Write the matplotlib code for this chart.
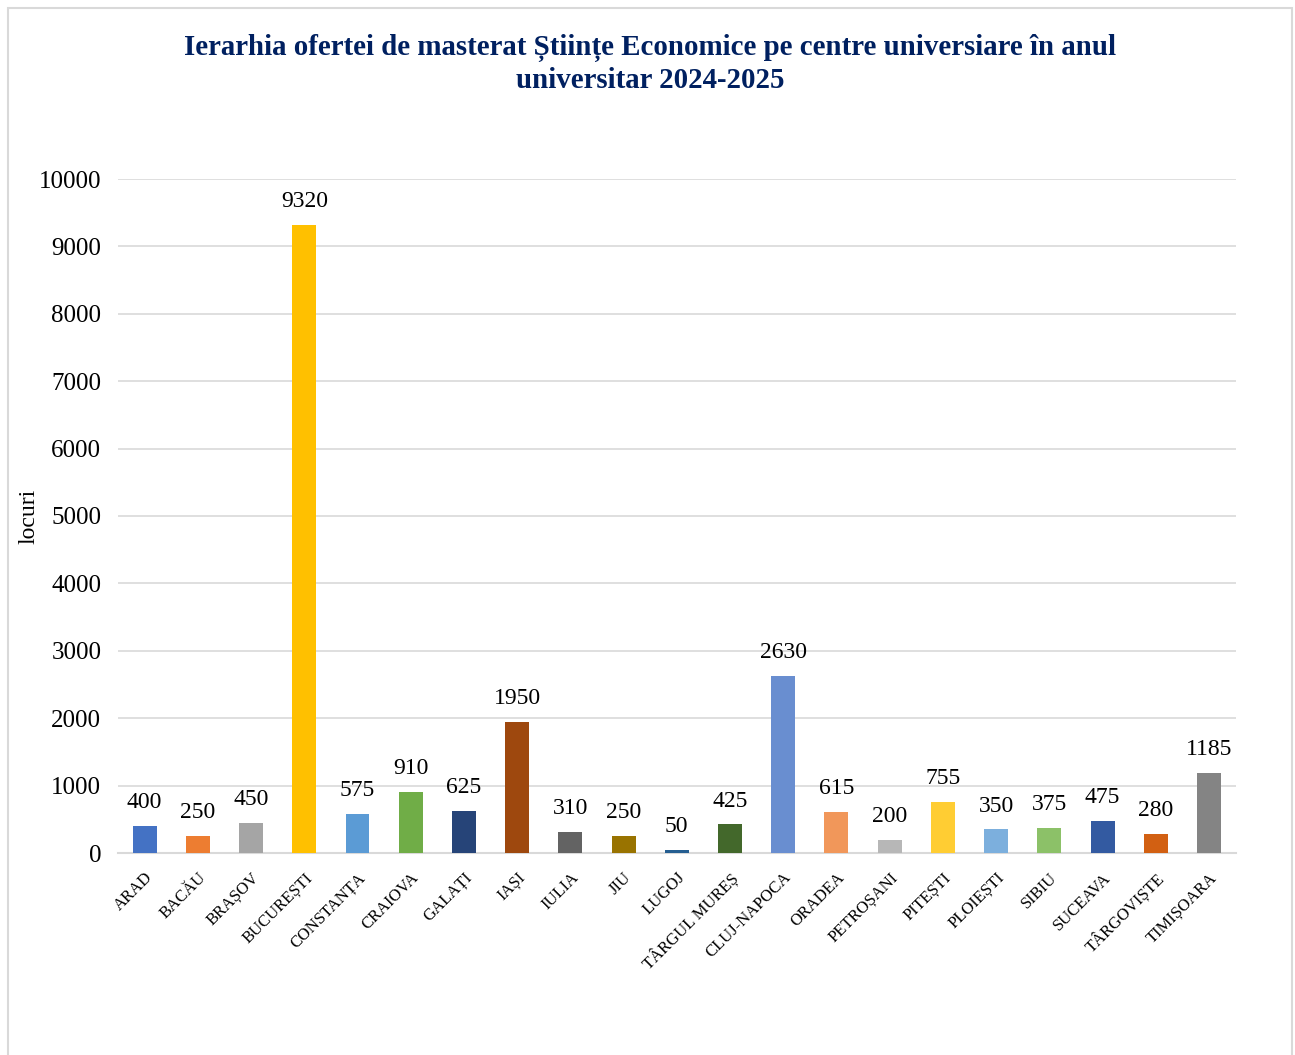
import matplotlib
matplotlib.use("Agg")
import matplotlib.pyplot as plt
from matplotlib.patches import Rectangle

categories = ["ARAD", "BACĂU", "BRAȘOV", "BUCUREȘTI", "CONSTANȚA", "CRAIOVA", "GALAȚI",
              "IAȘI", "IULIA", "JIU", "LUGOJ", "TÂRGUL MUREȘ", "CLUJ-NAPOCA", "ORADEA",
              "PETROȘANI", "PITEȘTI", "PLOIEȘTI", "SIBIU", "SUCEAVA", "TÂRGOVIȘTE", "TIMIȘOARA"]
values = [400, 250, 450, 9320, 575, 910, 625, 1950, 310, 250, 50, 425, 2630, 615,
          200, 755, 350, 375, 475, 280, 1185]
colors = ["#4472C4", "#ED7D31", "#A5A5A5", "#FFC000", "#5B9BD5", "#70AD47", "#264478",
          "#9E480E", "#636363", "#997300", "#255E91", "#43682B", "#698ED0", "#F1975A",
          "#B7B7B7", "#FFCD33", "#7CAFDD", "#8CC168", "#335AA1", "#D26012", "#848484"]
yticks = [0, 1000, 2000, 3000, 4000, 5000, 6000, 7000, 8000, 9000, 10000]

plt.rcParams['font.family'] = ['Liberation Serif', 'DejaVu Serif']

fig = plt.figure(figsize=(12.95, 10.55), dpi=100)
fig.patches.append(Rectangle((8/1295, -0.01), (1292-8)/1295, (1055-8)/1055 + 0.01,
                             transform=fig.transFigure, fill=False, edgecolor="#D9D9D9",
                             linewidth=1.5))
ax = fig.add_axes([118/1295, 1-853/1055, (1235.6-118)/1295, (853-179)/1055])

x = list(range(len(categories)))
ax.bar(x, values, width=0.45, color=colors, zorder=3)
for xi, v in zip(x, values):
    ax.text(xi, v + 190, str(v), ha="center", va="bottom", fontsize=17, color="#000000")

ax.set_xlim(-0.5, len(categories) - 0.5)
ax.set_ylim(0, 10000)
ax.set_yticks(yticks)
ax.set_yticklabels([str(t) for t in yticks], fontsize=18)
ax.set_xticks(x)
ax.set_xticklabels(categories, rotation=45, ha="right", rotation_mode="anchor", fontsize=12)
ax.tick_params(axis="both", length=0)
ax.tick_params(axis="y", pad=12)
ax.tick_params(axis="x", pad=12)
ax.grid(axis="y", color="#D9D9D9", linewidth=1.2, zorder=0)
for s in ["top", "right", "left"]:
    ax.spines[s].set_visible(False)
ax.spines["bottom"].set_color("#D9D9D9")
ax.spines["bottom"].set_linewidth(1.5)
ax.set_ylabel("locuri", fontsize=17)
ax.yaxis.set_label_coords((39-118)/1117.6, 0.5)

fig.text(650/1295, 1-48/1055, "Ierarhia ofertei de masterat Științe Economice pe centre universiare în anul",
         ha="center", va="center", fontsize=20.8, fontweight="bold", color="#002060")
fig.text(650/1295, 1-80/1055, "universitar 2024-2025",
         ha="center", va="center", fontsize=20.8, fontweight="bold", color="#002060")

fig.savefig("out.png", dpi=100)
